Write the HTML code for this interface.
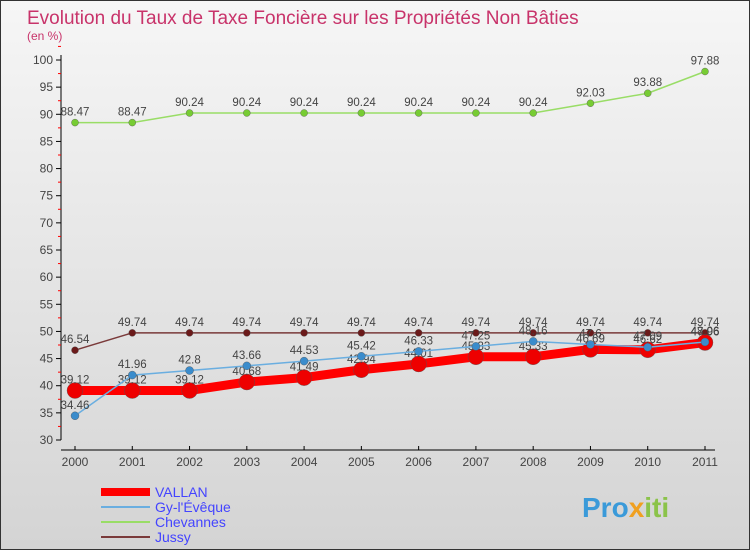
<!DOCTYPE html>
<html><head><meta charset="utf-8"><style>
body{margin:0;width:750px;height:550px;overflow:hidden;font-family:"Liberation Sans",sans-serif}
</style></head><body>
<svg width="750" height="550" xmlns="http://www.w3.org/2000/svg">
<defs><linearGradient id="bg" x1="0" y1="0" x2="0" y2="1"><stop offset="0" stop-color="#f6f6f6"/><stop offset="1" stop-color="#d4d4d4"/></linearGradient></defs>
<rect x="0.5" y="0.5" width="749" height="549" fill="url(#bg)" stroke="#333"/>
<text x="27" y="24" font-size="19" fill="#c8336a">Evolution du Taux de Taxe Foncière sur les Propriétés Non Bâties</text>
<text x="27" y="40" font-size="12" fill="#c8336a">(en %)</text>
<g id="axes"></g><g id="series"></g><g id="legend"></g>
<text x="582" y="517" font-size="28" font-weight="bold" fill="#3a9ad9">Pro<tspan fill="#f0a020">x</tspan><tspan fill="#8bc34a">iti</tspan></text>
</svg>
<script>
const years=["2000","2001","2002","2003","2004","2005","2006","2007","2008","2009","2010","2011"];
const vallan=[39.12,39.12,39.12,40.68,41.49,42.94,44.01,45.33,45.33,46.69,46.62,47.96];
const gy=[34.46,41.96,42.8,43.66,44.53,45.42,46.33,47.25,48.16,47.6,47.09,48.06];
const chevannes=[88.47,88.47,90.24,90.24,90.24,90.24,90.24,90.24,90.24,92.03,93.88,97.88];
const jussy=[46.54,49.74,49.74,49.74,49.74,49.74,49.74,49.74,49.74,49.74,49.74,49.74];
const yTicks=[30,35,40,45,50,55,60,65,70,75,80,85,90,95,100];
const NS="http://www.w3.org/2000/svg";
const X=i=>75+i*(630/11), Y=v=>440-(v-30)*(380/70);
function mk(t,a,p){const e=document.createElementNS(NS,t);for(const k in a)e.setAttribute(k,a[k]);p.appendChild(e);return e;}
const ax=document.getElementById('axes');
let l=mk('line',{x1:61,y1:55,x2:61,y2:440,stroke:'#000'},ax);


l=mk('line',{x1:61,y1:450,x2:715,y2:450,stroke:'#000'},ax);


yTicks.forEach(v=>{mk('line',{x1:56,y1:Y(v),x2:61,y2:Y(v),stroke:'#000'},ax);
 mk('line',{x1:58,y1:Y(v+2.5),x2:61,y2:Y(v+2.5),stroke:'red'},ax);
 const t=mk('text',{x:53,y:Y(v)+4,'font-size':12,fill:'#444','text-anchor':'end'},ax);t.textContent=v;
 
 });
years.forEach((y,i)=>{mk('line',{x1:X(i),y1:446,x2:X(i),y2:450,stroke:'#000'},ax);
 const t=mk('text',{x:X(i),y:466,'font-size':12,fill:'#444','text-anchor':'middle'},ax);t.textContent=y;
 
 });
const sg=document.getElementById('series');
const defs=[[chevannes,'#99dd66','#77cc33',1.5,3.5,'chevannes'],[jussy,'#7a3a3a','#6b1a1a',1.5,3.5,'jussy'],[vallan,'#ff0000','#ee0000',9,8,'vallan'],[gy,'#6aaee0','#3a8ccc',1.5,4,'gy-l-eveque']];
defs.forEach(([d,lc,pc,w,r,n])=>{
 const p=mk('polyline',{points:d.map((v,i)=>X(i)+','+Y(v)).join(' '),fill:'none',stroke:lc,'stroke-width':w},sg);
 
 
 d.forEach((v,i)=>{const c=mk('circle',{cx:X(i),cy:Y(v),r:r,fill:pc,stroke:'#555','stroke-width':0.4},sg);
  
  
  const t=mk('text',{x:X(i),y:Y(v)-7,'font-size':11.5,fill:'#444','text-anchor':'middle'},sg);t.textContent=v;
  
  });
});
const lg=document.getElementById('legend');
[['VALLAN','#ff0000',8],['Gy-l\'Évêque','#6aaee0',2],['Chevannes','#99dd66',2],['Jussy','#7a3a3a',2]].forEach(([n,c,w],i)=>{
 const y=492+i*15;
 const ln=mk('line',{x1:101,y1:y,x2:150,y2:y,stroke:c,'stroke-width':w},lg);
 
 
 const t=mk('text',{x:155,y:y+5,'font-size':14,fill:'#4444ff'},lg);t.textContent=n;
 
 
});
</script>
</body></html>
